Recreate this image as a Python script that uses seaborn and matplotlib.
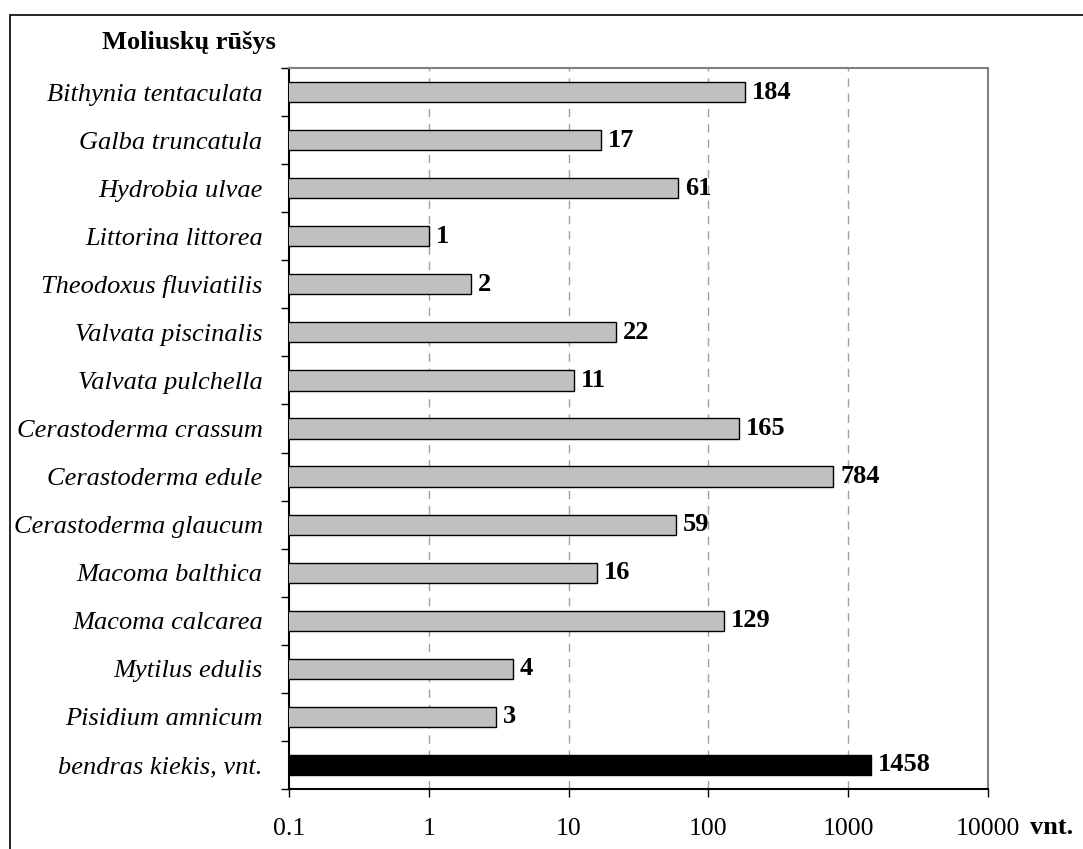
import matplotlib
matplotlib.use("Agg")
import matplotlib.pyplot as plt
import seaborn as sns
import pandas as pd
from matplotlib.patches import Rectangle

species = [
    "Bithynia tentaculata", "Galba truncatula", "Hydrobia ulvae",
    "Littorina littorea", "Theodoxus fluviatilis", "Valvata piscinalis",
    "Valvata pulchella", "Cerastoderma crassum", "Cerastoderma edule",
    "Cerastoderma glaucum", "Macoma balthica", "Macoma calcarea",
    "Mytilus edulis", "Pisidium amnicum", "bendras kiekis, vnt.",
]
counts = [184, 17, 61, 1, 2, 22, 11, 165, 784, 59, 16, 129, 4, 3, 1458]
x_ticks = [0.1, 1, 10, 100, 1000, 10000]
x_tick_labels = ["0.1", "1", "10", "100", "1000", "10000"]

df = pd.DataFrame({"species": species, "count": counts})
colors = ["#c0c0c0"] * (len(species) - 1) + ["#000000"]

sns.set_theme(style="white")
plt.rcParams["font.family"] = ["Liberation Serif", "DejaVu Serif"]

fig = plt.figure(figsize=(10.83, 8.49), dpi=100)
ax = fig.add_axes([289 / 1083, 1 - 789 / 849, (988 - 289) / 1083, (789 - 68) / 849])

sns.barplot(data=df, y="species", x="count", hue="species", palette=colors,
            legend=False, orient="h", width=0.42, edgecolor="black",
            linewidth=1.0, ax=ax, zorder=3)
ax.set_xscale("log")
ax.set_xlim(0.1, 10000)
ax.set_ylim(len(species) - 0.5, -0.5)

ax.set_xticks(x_ticks)
ax.set_xticklabels(x_tick_labels, fontsize=18.5, color="black")
ax.xaxis.set_minor_locator(matplotlib.ticker.NullLocator())
ax.tick_params(axis="x", bottom=True, direction="out", length=6, width=1,
               color="black", pad=15)

# y ticks at the boundaries between categories, labels centred on bars
ax.set_yticks([i - 0.5 for i in range(len(species) + 1)], minor=False)
ax.set_yticklabels([])
ax.set_yticks(range(len(species)), minor=True)
ax.set_yticklabels(species, minor=True, fontsize=19, style="italic", color="black")
ax.tick_params(axis="y", which="major", left=True, direction="out", length=6,
               width=1, color="black")
ax.tick_params(axis="y", which="minor", left=False, length=0, pad=19)
ax.set_xlabel("")
ax.set_ylabel("")

for t in x_ticks[1:-1]:
    ax.axvline(t, color="#a0a0a0", linestyle=(0, (6, 5)), linewidth=1, zorder=1)

for s in ["top", "right"]:
    ax.spines[s].set_color("#808080")
    ax.spines[s].set_linewidth(1.5)
for s in ["left", "bottom"]:
    ax.spines[s].set_color("black")
    ax.spines[s].set_linewidth(1.5)

for i, v in enumerate(counts):
    ax.text(v * 1.12, i, str(v), va="center", ha="left", fontsize=19,
            fontweight="bold", color="black", zorder=4)

fig.text(102 / 1083, 1 - 43 / 849, "Moliuskų rūšys", fontsize=19,
         fontweight="bold", va="center", ha="left", color="black")
fig.text(1030 / 1083, 1 - 827 / 849, "vnt.", fontsize=19,
         fontweight="bold", va="center", ha="left", color="black")

fig.add_artist(Rectangle((10 / 1083, -0.05), 1.1, 1 - 15 / 849 + 0.05,
                         transform=fig.transFigure, fill=False,
                         edgecolor="black", linewidth=1.2))

fig.savefig("out.png", dpi=100)
